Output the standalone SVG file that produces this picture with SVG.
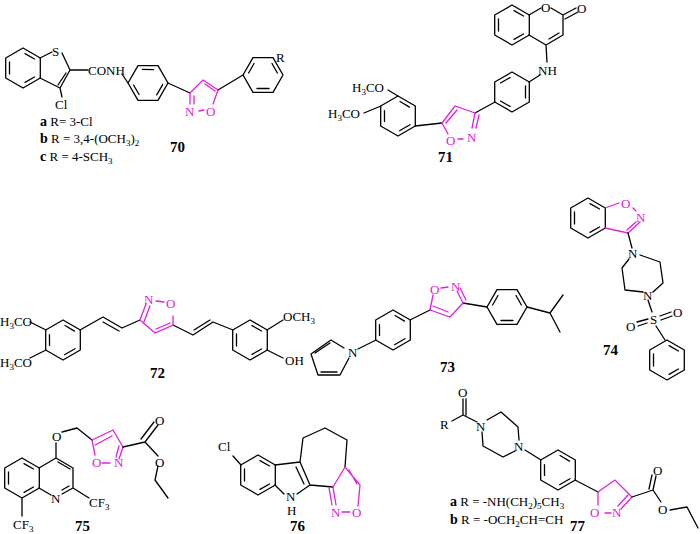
<svg xmlns="http://www.w3.org/2000/svg" width="700" height="534" viewBox="0 0 700 534">
<style>
.b{fill:none;stroke:#000;stroke-width:1.3;stroke-linejoin:round;stroke-linecap:round}
.p{fill:none;stroke:#e020e0;stroke-width:1.3;stroke-linecap:round}
text{font-family:"Liberation Serif","Times New Roman",serif;font-size:13px;fill:#000}
.pt{fill:#e020e0}
.n{font-weight:bold;font-size:15px}
.s{font-size:9px}
</style>
<defs>
<g id="bz" class="b">
<polygon points="0,-20 17.3,-10 17.3,10 0,20 -17.3,10 -17.3,-10"/>
<path d="M13.5,-6V6M-2,14.4L-11.5,9M-11.5,-9L-2,-14.4"/>
</g>
</defs>
<rect width="700" height="534" fill="#fff"/>

<g id="c70">
<use href="#bz" transform="translate(23,68) rotate(180)"/>
<path class="b" d="M40,58L52,52M62,53L70,70L60,88L40,78M66,73L58,85M60,88L62,97M70,70L88,70M122,74L128,83"/>
<text x="52" y="56">S</text><text x="55" y="109">Cl</text>
<text x="88" y="75">CONH</text>
<use href="#bz" transform="translate(148,83) rotate(30)"/>
<path class="b" d="M168,83L190,93M218,90L243,75"/>
<path class="p" d="M190,93L203,80L218,90M205,84L215,91M218,90L213,104M199,111L204,110M190,93L190,104M194,96L194,104"/>
<text class="pt" x="185" y="116">N</text><text class="pt" x="206" y="116">O</text>
<use href="#bz" transform="translate(263,75) rotate(90)"/>
<text x="276" y="62">R</text>
<text x="40" y="126"><tspan font-weight="bold" font-size="14">a</tspan>  R= 3-Cl</text>
<text x="40" y="143"><tspan font-weight="bold" font-size="14">b</tspan>  R = 3,4-(OCH<tspan class="s" dy="3">3</tspan><tspan dy="-3">)</tspan><tspan class="s" dy="3">2</tspan></text>
<text x="40" y="161"><tspan font-weight="bold" font-size="14">c</tspan>  R = 4-SCH<tspan class="s" dy="3">3</tspan></text>
<text class="n" x="170" y="152">70</text>
</g>

<g id="c71">
<use href="#bz" transform="translate(512,25) rotate(180)"/>
<path class="b" d="M529,15L541,8M551,8L563,15L563,35L546,45L529,35M559,33L549,39M563,15L576,8M565,19L578,12M546,45L547,62M529,82L540,75"/>
<text x="541" y="12">O</text><text x="577" y="13">O</text>
<text x="538" y="75">NH</text>
<use href="#bz" transform="translate(512,92)"/>
<path class="b" d="M495,102L475,113M442,123L415,126M398,96L388,90M381,106L364,113"/>
<path class="p" d="M475,113L455,106L442,123M457,110L446,123M442,123L448,134M458,139L463,139M475,113L472,128M479,115L476,128"/>
<text class="pt" x="446" y="145">O</text><text class="pt" x="467" y="142">N</text>
<use href="#bz" transform="translate(398,116) rotate(60)"/>
<text x="352" y="92">H<tspan class="s" dy="3">3</tspan><tspan dy="-3">CO</tspan></text>
<text x="328" y="118">H<tspan class="s" dy="3">3</tspan><tspan dy="-3">CO</tspan></text>
<text class="n" x="438" y="162">71</text>
</g>

<g id="c72">
<use href="#bz" transform="translate(63,340) rotate(60)"/>
<path class="b" d="M46,330L30,322M46,350L30,358M80,330L103,317L122,328L140,320M103,322L119,331M173,325L193,335L213,322L233,330M194,330L210,320M267,330L283,320M267,350L283,358"/>
<path class="p" d="M140,320L146,304M144,322L150,306M156,301L164,302M173,316L173,325L155,333L140,320M170,323L156,329"/>
<text class="pt" x="144" y="304">N</text><text class="pt" x="166" y="308">O</text>
<text x="0" y="326">H<tspan class="s" dy="3">3</tspan><tspan dy="-3">CO</tspan></text>
<text x="0" y="367">H<tspan class="s" dy="3">3</tspan><tspan dy="-3">CO</tspan></text>
<use href="#bz" transform="translate(250,340) rotate(180)"/>
<text x="283" y="321">OCH<tspan class="s" dy="3">3</tspan></text>
<text x="285" y="365">OH</text>
<text class="n" x="150" y="378">72</text>
</g>

<g id="c73">
<use href="#bz" transform="translate(393,330) rotate(60)"/>
<path class="b" d="M410,320L430,310M376,340L358,349M463,303L487,307M527,307L550,313L563,295M550,313L560,332"/>
<path class="p" d="M430,310L450,317L463,303M433,306L448,312M463,303L457,291M466,300L460,288M441,288L448,287M430,310L433,295"/>
<text class="pt" x="430" y="294">O</text><text class="pt" x="451" y="291">N</text>
<use href="#bz" transform="translate(507,307) rotate(90)"/>
<text x="348" y="357">N</text>
<path class="b" d="M349,358L340,375L318,375L311,354L331,340L344,348M337,372L321,372M315,353L330,343"/>
<text class="n" x="440" y="372">73</text>
</g>

<g id="c74">
<use href="#bz" transform="translate(588,218) rotate(180)"/>
<path class="p" d="M605,208L619,203M633,208L636,211M640,222L628,233L605,228M636,222L627,230"/>
<text class="pt" x="621" y="208">O</text><text class="pt" x="636" y="222">N</text>
<path class="b" d="M628,233L632,248M640,255L660,262L663,283L653,292M643,292L625,290L622,268L629,259M648,300L652,312M660,316L671,312M661,320L672,316M647,323L638,326M648,319L637,322M656,326L665,340"/>
<text x="628" y="258">N</text><text x="643" y="300">N</text>
<text x="650" y="324">S</text><text x="673" y="317">O</text><text x="626" y="331">O</text>
<use href="#bz" transform="translate(667,360) rotate(180)"/>
<text class="n" x="603" y="355">74</text>
</g>

<g id="c75">
<use href="#bz" transform="translate(22,478) rotate(180)"/>
<path class="b" d="M39,468L56,458L73,468L73,488L62,494M51,495L39,488M58,462L70,469M69,486L62,490M56,458L56,443M62,432L77,428L92,440M22,498L22,516M73,488L89,498"/>
<text x="52" y="441">O</text><text x="51" y="503">N</text>
<text x="89" y="507">CF<tspan class="s" dy="3">3</tspan></text>
<text x="13" y="529">CF<tspan class="s" dy="3">3</tspan></text>
<path class="p" d="M92,440L113,430L123,447M95,445L112,436M92,440L95,455M102,463L110,463M123,447L119,459M119,446L116,457"/>
<text class="pt" x="92" y="467">O</text><text class="pt" x="114" y="467">N</text>
<path class="b" d="M123,447L145,442L158,425M141,439L154,422M145,442L158,456M158,466L155,480L168,498"/>
<text x="155" y="425">O</text><text x="155" y="467">O</text>
<text class="n" x="75" y="531">75</text>
</g>

<g id="c76">
<use href="#bz" transform="translate(258,475) rotate(180)"/>
<text x="218" y="451">Cl</text>
<path class="b" d="M241,465L233,456M275,465L300,462L310,485L297,494M296,467L304,484M284,494L275,485M300,462L303,438L325,428L347,440L345,467M310,485L333,487"/>
<text x="286" y="501">N</text><text x="287" y="515">H</text>
<path class="p" d="M333,487L345,467L360,485L358,506M349,470L357,484M333,487L336,505M329,488L332,505M342,512L350,512"/>
<text class="pt" x="331" y="517">N</text><text class="pt" x="352" y="517">O</text>
<text class="n" x="290" y="531">76</text>
</g>

<g id="c77">
<path class="b" d="M452,421L463,415L463,399M466,415L466,399M463,415L477,422M487,420L501,412L518,427L519,440M515,451L503,457L483,446L482,432M525,450L541,460M575,480L598,492"/>
<text x="458" y="397">O</text><text x="440" y="429">R</text>
<text x="476" y="431">N</text><text x="514" y="451">N</text>
<use href="#bz" transform="translate(558,470) rotate(60)"/>
<path class="p" d="M598,492L615,480L632,497L621,509M628,495L618,506M605,513L611,513M598,492L598,505"/>
<text class="pt" x="590" y="517">O</text><text class="pt" x="612" y="517">N</text>
<path class="b" d="M632,497L653,490L656,476M649,489L652,475M653,490L661,502M670,510L687,507L698,528"/>
<text x="653" y="475">O</text><text x="658" y="514">O</text>
<text x="450" y="506"><tspan font-weight="bold" font-size="14">a</tspan> R = -NH(CH<tspan class="s" dy="3">2</tspan><tspan dy="-3">)</tspan><tspan class="s" dy="3">5</tspan><tspan dy="-3">CH</tspan><tspan class="s" dy="3">3</tspan></text>
<text x="450" y="524"><tspan font-weight="bold" font-size="14">b</tspan> R = -OCH<tspan class="s" dy="3">2</tspan><tspan dy="-3">CH=CH</tspan></text>
<text class="n" x="570" y="531">77</text>
</g>
</svg>
